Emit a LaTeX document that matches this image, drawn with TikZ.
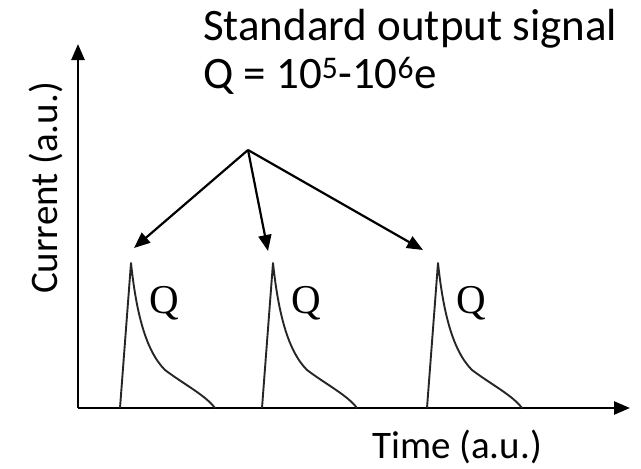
\documentclass[tikz,border=0pt]{standalone}
\usepackage{fontspec}
\setmainfont{Carlito}
\newfontfamily\qfont{Liberation Serif}
\usetikzlibrary{arrows.meta}
\begin{document}
\begin{tikzpicture}[x=1pt,y=-1pt,
  axis/.style={line width=2.6pt,-{Triangle[length=16pt,width=13pt]}},
  pointer/.style={line width=2.2pt,-{Triangle[length=16pt,width=13pt]}},
  pulse/.style={line width=1.9pt,line join=round,draw=black!85},
  lbl/.style={font=\fontsize{39}{44}\selectfont,inner sep=0pt},
  big/.style={font=\fontsize{45}{50}\selectfont,inner sep=0pt},
  qlbl/.style={font=\qfont\fontsize{41}{44}\selectfont,inner sep=0pt}]
\useasboundingbox (0,0) rectangle (641,469);
% axes
\coordinate (O) at (78,408);
\coordinate (ytip) at (78,44);
\coordinate (xtip) at (630,408);
\draw[axis] (O) -- (ytip);
\draw[axis] (O) -- (xtip);
\node[lbl,rotate=90,anchor=base] (ylab) at (57,188) {Current (a.u.)};
\node[lbl,anchor=base] (xlab) at (457,458) {Time (a.u.)};
% title
\node[big,anchor=base west] (title) at (203,40) {Standard output signal};
\node[big,anchor=base west] (eq) at (203,88) {Q = 10\textsuperscript{5}-10\textsuperscript{6}e};
% pulses
\foreach \s/\n in {120/1,262/2,427/3}{
  \begin{scope}[shift={(\s,0)}]
    \coordinate (p\n) at (11,263);
    \draw[pulse] (0,408) -- (p\n) .. controls (16,310) and (25,350) .. (45,370)
       .. controls (65,385) and (85,395) .. (95,408);
    \node[qlbl,anchor=base west] (q\n) at (29,313) {Q};
  \end{scope}
}
% arrows
\coordinate (src) at (248,150);
\coordinate (t1) at (134,248);
\coordinate (t2) at (268,251);
\coordinate (t3) at (423,250);
\draw[pointer] (src) -- (t1);
\draw[pointer] (src) -- (t2);
\draw[pointer] (src) -- (t3);
\end{tikzpicture}
\end{document}
